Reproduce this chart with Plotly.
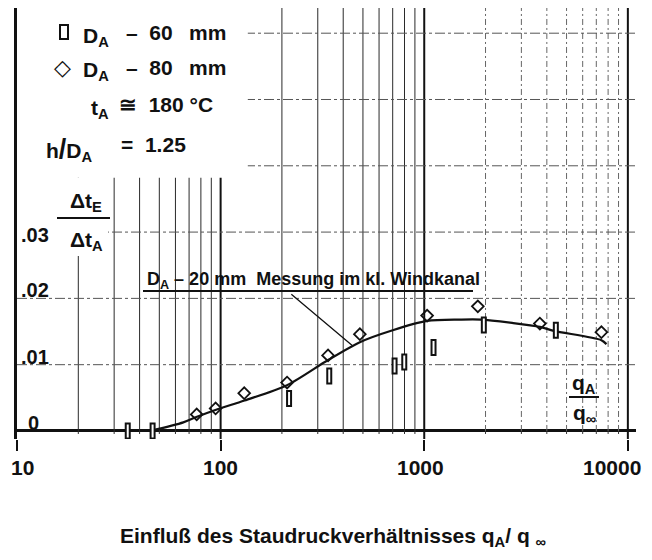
import math
import numpy as np
import plotly.graph_objects as go

# ---------------- data ----------------
RECT_X = [34.2, 45.3, 212, 334, 699, 780, 1086, 1918, 4330]          # D_A = 60 mm
RECT_Y = [0.0, 0.0, 0.0049, 0.0083, 0.0098, 0.0104, 0.0126, 0.0160, 0.0152]
DIAM_X = [76.3, 94.5, 130.6, 212, 337, 483, 1033, 1833, 3697, 7415]   # D_A = 80 mm
DIAM_Y = [0.0025, 0.0034, 0.0057, 0.0073, 0.0114, 0.0146, 0.0174, 0.0188, 0.0162, 0.0149]
CURVE_X = [45, 65.6, 76, 95, 131, 212, 337, 483, 700, 1033, 1500, 1900, 2700, 3700, 4330, 7415, 7850]
CURVE_Y = [0.0, 0.0013, 0.0021, 0.0032, 0.0046, 0.0069, 0.0107, 0.0134, 0.0152, 0.0166,
           0.0168, 0.0168, 0.0163, 0.0157, 0.0151, 0.0137, 0.0131]
X_TICKS = [10, 100, 1000, 10000]
X_TICK_TEXT = ["10", "100", "1000", "10000"]
Y_TICKS = [0, 0.01, 0.02, 0.03]
Y_TICK_TEXT = ["0", ".01", ".02", ".03"]
Y_GRID = [0.01, 0.02, 0.03, 0.04, 0.05, 0.06]

# ---------------- layout constants ----------------
W, H = 652, 560
ML, MR, MT, MB = 17, 16, 8, 121
XR = [1, 4.04]
YR = [-0.00121, 0.0638]
FONT = "Liberation Sans, Arial, sans-serif"
INK = "#111111"
X_LABEL_SHIFT = [5, 0, -4, -16]


def pp(px, py):
    """pixel -> paper coordinates"""
    return (px - ML) / (W - ML - MR), (H - MB - py) / (H - MB - MT)


XMAX = 10 ** XR[1]
YMAX = YR[1]
PX_PER_Y = (H - MB - MT) / (YR[1] - YR[0])

fig = go.Figure()

# ---------------- grid (drawn as traces) ----------------
def vlines(xs, ybot, ytop):
    X, Y = [], []
    for x in xs:
        X += [x, x, None]
        Y += [ybot, ytop, None]
    return X, Y

solid_minor = [k * d for d in (10, 100) for k in range(2, 10)]
dash_minor = [k * 1000 for k in range(2, 10)]
majors = [100, 1000, 10000]
minor_bottom = -3 / PX_PER_Y

vx, vy = vlines(solid_minor, minor_bottom, YMAX)
fig.add_trace(go.Scatter(x=vx, y=vy, mode="lines", line=dict(color="#2a2a2a", width=1),
                         hoverinfo="skip", showlegend=False))
vx, vy = vlines(dash_minor, 0, YMAX)
fig.add_trace(go.Scatter(x=vx, y=vy, mode="lines",
                         line=dict(color="#666", width=1, dash="6px,3px,2px,3px"),
                         hoverinfo="skip", showlegend=False))
vx, vy = vlines(dash_minor, minor_bottom, 0)
fig.add_trace(go.Scatter(x=vx, y=vy, mode="lines", line=dict(color="#333", width=1),
                         hoverinfo="skip", showlegend=False))
vx, vy = vlines(majors, YR[0], YMAX)
fig.add_trace(go.Scatter(x=vx, y=vy, mode="lines", line=dict(color="#111", width=2),
                         hoverinfo="skip", showlegend=False))
hx, hy = [], []
for g in Y_GRID:
    hx += [10, XMAX, None]
    hy += [g, g, None]
fig.add_trace(go.Scatter(x=hx, y=hy, mode="lines",
                         line=dict(color="#555", width=1, dash="10px,3px,3px,3px"),
                         hoverinfo="skip", showlegend=False))

# white areas behind the key text (grid is interrupted there)
for bx, by in (([10, 136, 136, 10, 10], [0.0382, 0.0382, YMAX, YMAX, 0.0382]),
               ([10, 28, 28, 10, 10], [0.0264, 0.0264, 0.0382, 0.0382, 0.0264])):
    fig.add_trace(go.Scatter(x=bx, y=by, mode="lines", fill="toself", fillcolor="white",
                             line=dict(width=0, color="white"), hoverinfo="skip", showlegend=False))

# ---------------- curve & measurements ----------------
fig.add_trace(go.Scatter(x=CURVE_X, y=CURVE_Y, mode="lines",
                         line=dict(color=INK, width=2.2, shape="spline", smoothing=0.8),
                         name="D_A - 20 mm", showlegend=False))
fig.add_trace(go.Scatter(x=DIAM_X, y=DIAM_Y, mode="markers",
                         marker=dict(symbol="diamond-open", size=9, color=INK,
                                     line=dict(width=1.8, color=INK)),
                         name="D_A = 80 mm", showlegend=False, cliponaxis=False))

shapes = []
# D_A = 60 mm : open upright rectangles anchored at the data values
for xv, yv in zip(RECT_X, RECT_Y):
    shapes.append(dict(type="rect", xref="x", yref="y", xsizemode="pixel", ysizemode="pixel",
                       xanchor=xv, yanchor=yv, x0=-4, x1=4, y0=-7.5, y1=7.5,
                       fillcolor="white", line=dict(color=INK, width=2), layer="above"))

# ---------------- annotations ----------------
ann = []
for v, t, s in zip(X_TICKS, X_TICK_TEXT, X_LABEL_SHIFT):
    ann.append(dict(x=math.log10(v), y=0, xref="x", yref="y", text=f"<b>{t}</b>", showarrow=False,
                    xanchor="center", yanchor="middle", xshift=s, yshift=-37,
                    font=dict(family=FONT, size=21, color=INK)))
for v, t in zip(Y_TICKS, Y_TICK_TEXT):
    ann.append(dict(x=XR[0], y=v, xref="x", yref="y", text=f"<b>{t}</b>", showarrow=False,
                    xanchor="left", yanchor="middle", xshift=(9 if t == "0" else 2),
                    yshift=(-3 if t == ".03" else 8),
                    font=dict(family=FONT, size=20, color=INK)))


def txt(px, py, text, anchor="left", size=21, bold=True, family=FONT):
    x, y = pp(px, py)
    ann.append(dict(x=x, y=y, xref="paper", yref="paper", text=(f"<b>{text}</b>" if bold else text),
                    showarrow=False, xanchor=anchor, yanchor="middle",
                    font=dict(family=family, size=size, color=INK)))


# key
lx, ly = pp(64, 32)
shapes.append(dict(type="rect", xref="paper", yref="paper", xsizemode="pixel", ysizemode="pixel",
                   xanchor=lx, yanchor=ly, x0=-4, x1=4, y0=-7, y1=7,
                   fillcolor="white", line=dict(color=INK, width=2)))
txt(62, 67, "\u25c7", "center", size=22, bold=False, family="DejaVu Sans")
txt(81, 37, "D<sub>A</sub>", "left")
txt(124, 33, "\u2013  60\u2002 mm", "left")
txt(81, 71, "D<sub>A</sub>", "left")
txt(124, 67, "\u2013  80\u2002 mm", "left")
txt(111, 109, "t<sub>A</sub>", "right")
txt(117, 105, "\u2245  180 \u00b0C", "left")
txt(44, 149, "h<span style='font-size:27px'>/</span>D<sub>A</sub>", "left")
txt(119, 145, "=  1.25", "left")
# delta t fraction
txt(86, 202, "\u0394t<sub>E</sub>", "center")
txt(86, 241, "\u0394t<sub>A</sub>", "center")
# curve label
txt(145, 280, "D<sub>A</sub> \u2013 20 mm  Messung im kl. Windkanal", "left", size=18)
# q ratio
txt(584, 384, "q<sub>A</sub>", "center")
txt(584, 414, "q<sub>\u221e</sub>", "center")
# caption
txt(333, 537, "Einflu\u00df des Staudruckverh\u00e4ltnisses q<sub>A</sub>/ q <sub>\u221e</sub>", "center",
    size=21)

# leader line from the label to the curve
tip_x = 446
tip_y = float(np.interp(math.log10(tip_x), np.log10(CURVE_X), CURVE_Y))
ann.append(dict(x=math.log10(tip_x), y=tip_y, xref="x", yref="y", text="", showarrow=True,
                arrowhead=0, arrowwidth=1.3, arrowcolor=INK, ax=-63, ay=-53, standoff=0))


def hbar(px0, px1, py, w=2):
    x0, y = pp(px0, py)
    x1, _ = pp(px1, py)
    shapes.append(dict(type="line", xref="paper", yref="paper", x0=x0, x1=x1, y0=y, y1=y,
                       line=dict(color=INK, width=w)))


hbar(57, 110, 218)      # delta t fraction bar
hbar(143, 473, 291)     # underline of curve label
hbar(569, 599, 397)     # q ratio bar

fig.update_layout(
    width=W, height=H, autosize=False,
    margin=dict(l=ML, r=MR, t=MT, b=MB),
    paper_bgcolor="white", plot_bgcolor="white",
    showlegend=False,
    annotations=ann, shapes=shapes,
    xaxis=dict(type="log", range=XR, showgrid=False, zeroline=False, showline=False,
               ticks="outside", tickvals=X_TICKS, ticklen=11,
               tickwidth=2, tickcolor=INK, showticklabels=False),
    yaxis=dict(range=YR, showgrid=False, zeroline=True, zerolinecolor=INK, zerolinewidth=2.5,
               showline=True, linecolor=INK, linewidth=2.5, ticks="", showticklabels=False),
)

fig.write_html("out.html")
